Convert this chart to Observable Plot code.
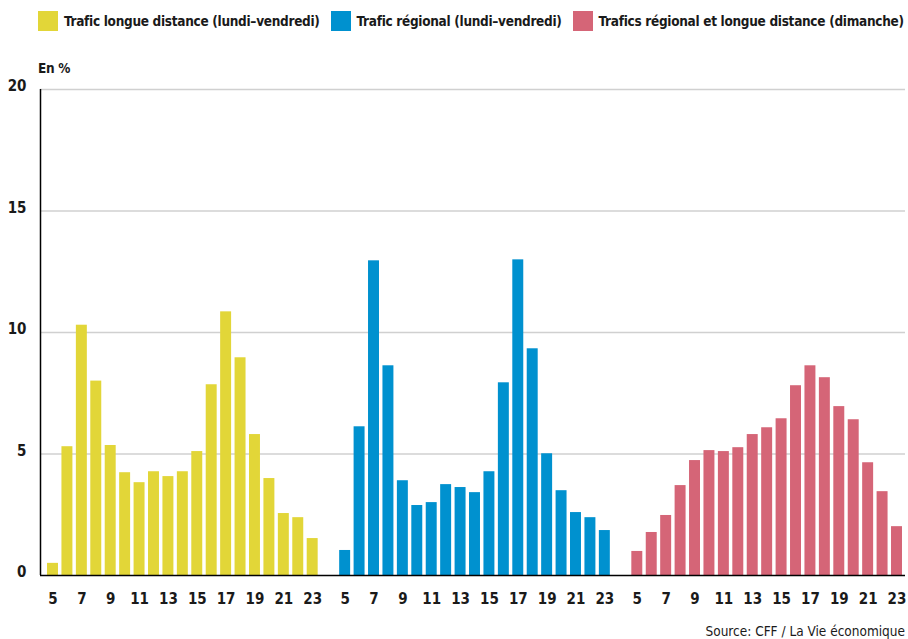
<!DOCTYPE html>
<html>
<head>
<meta charset="utf-8">
<script src="https://cdn.jsdelivr.net/npm/d3@7"></script>
<script src="https://cdn.jsdelivr.net/npm/@observablehq/plot@0.6"></script>
<style>
  body { margin: 0; background: #fff; }
  #wrap { position: relative; width: 908px; height: 639px; font-family: "DejaVu Sans Condensed", sans-serif; color: #1a1a1a; }
  #legend { position: absolute; left: 38px; top: 11px; display: flex; align-items: center; white-space: nowrap; }
  .item { display: flex; align-items: center; margin-right: 11px; }
  .sw { width: 20px; height: 20px; margin-right: 6px; }
  .lab { font-size: 13.5px; font-weight: bold; letter-spacing: -0.3px; }
  #unit { position: absolute; left: 38px; top: 60px; font-size: 13.5px; font-weight: bold; letter-spacing: -0.3px; }
  #source { position: absolute; right: 3px; top: 623px; font-size: 13.5px; letter-spacing: 0px; }
  #chart { position: absolute; left: 0; top: 0; }
</style>
</head>
<body>
<div id="wrap">
  <div id="chart"></div>
  <div id="legend"></div>
  <div id="unit">En %</div>
  <div id="source">Source: CFF / La Vie économique</div>
</div>
<script>
// ---- Data ----
const groups = [
  "Trafic longue distance (lundi–vendredi)",
  "Trafic régional (lundi–vendredi)",
  "Trafics régional et longue distance (dimanche)"
];
const colors = ["#e2d638", "#0091cf", "#d56577"];
const hours = [5, 6, 7, 8, 9, 10, 11, 12, 13, 14, 15, 16, 17, 18, 19, 20, 21, 22, 23];
const longDistance = [0.5, 5.3, 10.3, 8.0, 5.35, 4.23, 3.82, 4.27, 4.07, 4.27, 5.1, 7.85, 10.85, 8.96, 5.8, 3.99, 2.55, 2.38, 1.52];
const regional     = [1.03, 6.12, 12.95, 8.63, 3.9, 2.88, 3.0, 3.74, 3.62, 3.41, 4.27, 7.93, 12.99, 9.33, 5.01, 3.49, 2.59, 2.38, 1.85];
const sunday       = [0.99, 1.77, 2.47, 3.7, 4.73, 5.14, 5.1, 5.26, 5.8, 6.08, 6.45, 7.81, 8.63, 8.14, 6.95, 6.41, 4.64, 3.45, 2.01];
const yTicks = [0, 5, 10, 15, 20];
const xTickHours = [5, 7, 9, 11, 13, 15, 17, 19, 21, 23];

// ---- Layout helpers ----
const GROUP_OFFSET = 20.25; // distance between groups in hour units
const HALF = 0.38;          // half bar width in hour units
const series = [longDistance, regional, sunday];

const rows = groups.flatMap((g, gi) => hours.map((h, i) => ({
  group: g, hour: h, value: series[gi][i], pos: gi * GROUP_OFFSET + h
})));
const ticks = groups.flatMap((g, gi) => xTickHours.map(h => ({pos: gi * GROUP_OFFSET + h, hour: h})));
const tickLabel = new Map(ticks.map(t => [t.pos, String(t.hour)]));

const xMin = 4.134, xMax = 64.089;

const chart = Plot.plot({
  width: 908,
  height: 639,
  marginLeft: 40,
  marginRight: 3,
  marginTop: 89,
  marginBottom: 64,
  style: {fontFamily: '"DejaVu Sans Condensed", sans-serif', background: "transparent"},
  x: {type: "linear", domain: [xMin, xMax]},
  y: {domain: [0, 20]},
  color: {domain: groups, range: colors},
  marks: [
    Plot.ruleY(yTicks.filter(d => d > 0), {stroke: "#d0d0d0", strokeWidth: 1.5, x1: xMin, x2: xMax}),
    Plot.rectY(rows, {x1: d => d.pos - HALF, x2: d => d.pos + HALF, y: "value", fill: "group"}),
    Plot.ruleY([0], {stroke: "#000", strokeWidth: 1.5, x1: xMin, x2: xMax}),
    Plot.ruleX([xMin], {y1: 0, y2: 20, stroke: "#000", strokeWidth: 1.5}),
    Plot.axisY({ticks: yTicks, tickSize: 0, tickPadding: 14, label: null, fontSize: 15, fontWeight: "bold", fill: "#1a1a1a", dy: -3}),
    Plot.axisX({ticks: ticks.map(t => t.pos), tickFormat: d => tickLabel.get(d) ?? "", tickSize: 0, tickPadding: 18, label: null, fontSize: 15, fontWeight: "bold", fill: "#1a1a1a"})
  ]
});
document.getElementById("chart").appendChild(chart);

// ---- Legend ----
const legend = document.getElementById("legend");
groups.forEach((g, i) => {
  const item = document.createElement("div");
  item.className = "item";
  const sw = document.createElement("div");
  sw.className = "sw";
  sw.style.background = colors[i];
  const lab = document.createElement("span");
  lab.className = "lab";
  lab.textContent = g;
  item.appendChild(sw);
  item.appendChild(lab);
  legend.appendChild(item);
});
</script>
</body>
</html>
